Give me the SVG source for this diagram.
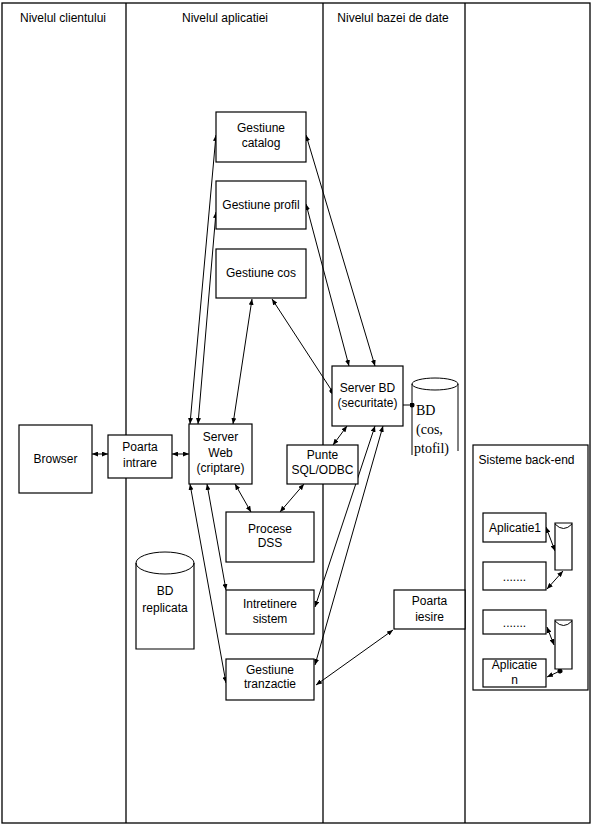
<svg xmlns="http://www.w3.org/2000/svg" width="592" height="830" viewBox="0 0 592 830">
<style>
text{font-family:"Liberation Sans",Arial,sans-serif;font-size:12px;fill:#000;text-anchor:middle}
.box{fill:#fff;stroke:#000;stroke-width:1.2}
.frame{fill:none;stroke:#000;stroke-width:1.2}
.lane{fill:none;stroke:#000;stroke-width:1.3}
.c{fill:none;stroke:#000;stroke-width:1}
.serif{font-family:"Liberation Serif","Times New Roman",serif;font-size:14px;text-anchor:start}
</style>
<defs>
<marker id="a" viewBox="0 0 6 5" refX="6" refY="2.5" markerWidth="6" markerHeight="5" markerUnits="userSpaceOnUse" orient="auto-start-reverse"><path d="M0,0 L6,2.5 L0,5 z" fill="#000"/></marker>
<marker id="d" viewBox="0 0 6 6" refX="3" refY="3" markerWidth="5" markerHeight="5" markerUnits="userSpaceOnUse" orient="auto"><circle cx="3" cy="3" r="3" fill="#000"/></marker>
</defs>
<rect width="592" height="830" fill="#fff"/>
<g id="lanes">
<rect class="lane" x="2" y="3" width="588" height="820"/>
<line class="lane" x1="126" y1="3" x2="126" y2="823"/>
<line class="lane" x1="323" y1="3" x2="323" y2="823"/>
<line class="lane" x1="465" y1="3" x2="465" y2="823"/>
<text x="63" y="22">Nivelul clientului</text>
<text x="225" y="22">Nivelul aplicatiei</text>
<text x="393" y="22">Nivelul bazei de date</text>
</g>
<g id="sisteme-back-end"><rect class="frame" x="473" y="445" width="115" height="245"/><text x="526.5" y="464">Sisteme back-end</text></g>
<g id="connectors">
<line class="c" x1="92" y1="454" x2="108" y2="454" marker-start="url(#a)" marker-end="url(#a)"/>
<line class="c" x1="172" y1="454" x2="189" y2="454" marker-start="url(#a)" marker-end="url(#a)"/>
<line class="c" x1="190" y1="424" x2="216" y2="135" marker-start="url(#a)" marker-end="url(#a)"/>
<line class="c" x1="198" y1="424" x2="216" y2="212" marker-start="url(#a)" marker-end="url(#a)"/>
<line class="c" x1="233" y1="424" x2="252" y2="299" marker-start="url(#a)" marker-end="url(#a)"/>
<line class="c" x1="272" y1="299" x2="332" y2="391" marker-start="url(#a)" marker-end="url(#d)"/>
<line class="c" x1="306" y1="135" x2="375" y2="366" marker-start="url(#a)" marker-end="url(#a)"/>
<line class="c" x1="306" y1="204" x2="349" y2="366" marker-start="url(#a)" marker-end="url(#a)"/>
<line class="c" x1="403" y1="405" x2="412" y2="405" marker-end="url(#d)"/>
<line class="c" x1="235" y1="484" x2="251" y2="512" marker-start="url(#a)" marker-end="url(#a)"/>
<line class="c" x1="304" y1="484" x2="280" y2="512" marker-start="url(#a)" marker-end="url(#a)"/>
<line class="c" x1="333" y1="445" x2="347" y2="426" marker-start="url(#a)" marker-end="url(#a)"/>
<line class="c" x1="375" y1="426" x2="315" y2="607" marker-start="url(#a)" marker-end="url(#a)"/>
<line class="c" x1="383" y1="426" x2="315" y2="665" marker-start="url(#a)" marker-end="url(#a)"/>
<line class="c" x1="207" y1="484" x2="226" y2="590" marker-start="url(#a)" marker-end="url(#a)"/>
<line class="c" x1="190" y1="484" x2="226" y2="683" marker-start="url(#a)" marker-end="url(#a)"/>
<line class="c" x1="316" y1="685" x2="393" y2="630" marker-start="url(#a)" marker-end="url(#a)"/>
<line class="c" x1="546" y1="527" x2="555" y2="551" marker-start="url(#a)" marker-end="url(#a)"/>
<line class="c" x1="547" y1="589" x2="563" y2="571" marker-start="url(#a)" marker-end="url(#a)"/>
<line class="c" x1="547" y1="627" x2="554" y2="645" marker-start="url(#a)" marker-end="url(#a)"/>
<line class="c" x1="547" y1="677" x2="560" y2="671" marker-start="url(#a)" marker-end="url(#d)"/>
</g>
<g id="gestiune-catalog"><rect class="box" x="216" y="112" width="90" height="50"/><text x="261" y="132">Gestiune</text><text x="261" y="147">catalog</text></g>
<g id="gestiune-profil"><rect class="box" x="216" y="181" width="90" height="48"/><text x="261" y="209">Gestiune profil</text></g>
<g id="gestiune-cos"><rect class="box" x="216" y="249" width="90" height="49"/><text x="261" y="277">Gestiune cos</text></g>
<g id="browser"><rect class="box" x="19" y="425" width="73" height="68"/><text x="55.5" y="463">Browser</text></g>
<g id="poarta-intrare"><rect class="box" x="108" y="435" width="64" height="43"/><text x="140" y="451">Poarta</text><text x="140" y="467">intrare</text></g>
<g id="server-web"><rect class="box" x="189" y="424" width="63" height="60"/><text x="220.5" y="441">Server</text><text x="220.5" y="457">Web</text><text x="220.5" y="472">(criptare)</text></g>
<g id="server-bd"><rect class="box" x="332" y="366" width="71" height="60"/><text x="367.5" y="392">Server BD</text><text x="367.5" y="407">(securitate)</text></g>
<g id="bd-cos-profil"><path class="c" d="M412,384 L412,455 M458,384 L458,451"/><ellipse class="c" cx="435" cy="384" rx="23" ry="6"/><text class="serif" x="416" y="415">BD</text><text class="serif" x="416" y="434">(cos,</text><text class="serif" x="414" y="453">ptofil)</text></g>
<g id="punte-sql-odbc"><rect class="box" x="287" y="445" width="71" height="39"/><text x="322.5" y="459">Punte</text><text x="322.5" y="474">SQL/ODBC</text></g>
<g id="procese-dss"><rect class="box" x="226" y="512" width="88" height="50"/><text x="270" y="533">Procese</text><text x="270" y="547">DSS</text></g>
<g id="bd-replicata"><path class="box" d="M136,563 L136,649 L194,649 L194,563"/><ellipse class="c" cx="165" cy="563" rx="29" ry="11"/><text x="165" y="595">BD</text><text x="165" y="612">replicata</text></g>
<g id="intretinere-sistem"><rect class="box" x="226" y="590" width="88" height="44"/><text x="270" y="608">Intretinere</text><text x="270" y="623">sistem</text></g>
<g id="gestiune-tranzactie"><rect class="box" x="226" y="659" width="88" height="41"/><text x="270" y="674">Gestiune</text><text x="270" y="688">tranzactie</text></g>
<g id="poarta-iesire"><rect class="box" x="394" y="590" width="71" height="39"/><text x="429.5" y="605">Poarta</text><text x="429.5" y="621">iesire</text></g>
<g id="aplicatie1"><rect class="box" x="483" y="513" width="63" height="29"/><text x="515" y="532">Aplicatie1</text></g>
<g id="app-dots-1"><rect class="box" x="483" y="562" width="63" height="28"/><text x="514.5" y="581">.......</text></g>
<g id="app-dots-2"><rect class="box" x="483" y="610" width="63" height="24"/><text x="514.5" y="627">.......</text></g>
<g id="aplicatie-n"><rect class="box" x="483" y="659" width="63" height="28"/><text x="514.5" y="669">Aplicatie</text><text x="514.5" y="684">n</text></g>
<g id="db1"><path class="box" d="M555,523 L555,570 L572,570 L572,523 Z"/><path class="c" d="M555,524 Q563.5,533 572,524"/></g>
<g id="db2"><path class="box" d="M555,620 L555,669 L572,669 L572,620 Z"/><path class="c" d="M555,621 Q563.5,630 572,621"/></g>
</svg>
